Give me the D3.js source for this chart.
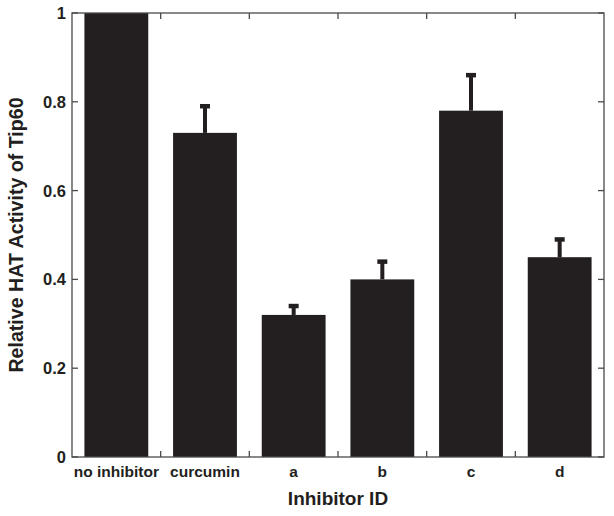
<!DOCTYPE html>
<html>
<head>
<meta charset="utf-8">
<script src="https://cdn.jsdelivr.net/npm/d3@7/dist/d3.min.js"></script>
<style>
html,body{margin:0;padding:0;background:#fff;}
svg{display:block;}
text{font-family:"Liberation Sans",Arial,sans-serif;font-weight:bold;fill:#231f20;}
</style>
</head>
<body>
<svg id="chart" width="614" height="516"></svg>
<script>
const categories = ["no inhibitor", "curcumin", "a", "b", "c", "d"];
const values = [1.0, 0.73, 0.32, 0.40, 0.78, 0.45];
const errors = [0, 0.06, 0.02, 0.04, 0.08, 0.04];
const yTicks = [0, 0.2, 0.4, 0.6, 0.8, 1];
const yTickLabels = ["0", "0.2", "0.4", "0.6", "0.8", "1"];
const xTitle = "Inhibitor ID";
const yTitle = "Relative HAT Activity of Tip60";

(function () {
const svg = d3.select("#chart");
const pL = 72, pR = 604, pT = 13, pB = 457;
const barColor = "#231f20", axisColor = "#4a4a4a";

const x = d3.scaleBand().domain(categories).range([pL, pR]).paddingInner(0.28).paddingOuter(0.14);
const xb = d3.scaleLinear().domain([0, categories.length]).range([pL, pR]);
const y = d3.scaleLinear().domain([0, 1]).range([pB, pT]);

// bars
svg.append("g").selectAll("rect").data(values).join("rect")
  .attr("x", (d, i) => x(categories[i]))
  .attr("width", x.bandwidth())
  .attr("y", d => y(d))
  .attr("height", d => y(0) - y(d))
  .attr("fill", barColor);

// error bars
const eg = svg.append("g");
values.forEach((v, i) => {
  if (!errors[i]) return;
  const cx = x(categories[i]) + x.bandwidth() / 2;
  eg.append("rect").attr("x", cx - 2).attr("width", 4)
    .attr("y", y(v + errors[i])).attr("height", y(v) - y(v + errors[i]))
    .attr("fill", barColor);
  eg.append("rect").attr("x", cx - 5).attr("width", 10)
    .attr("y", y(v + errors[i]) - 2.25).attr("height", 4.5)
    .attr("fill", barColor);
});

// frame
svg.append("rect").attr("x", pL).attr("y", pT).attr("width", pR - pL).attr("height", pB - pT)
  .attr("fill", "none").attr("stroke", axisColor).attr("stroke-width", 1.3);

// y ticks (inward on left and right)
const tg = svg.append("g").attr("stroke", axisColor).attr("stroke-width", 1.3);
yTicks.forEach(t => {
  tg.append("line").attr("x1", pL).attr("x2", pL + 6).attr("y1", y(t)).attr("y2", y(t));
  tg.append("line").attr("x1", pR).attr("x2", pR - 6).attr("y1", y(t)).attr("y2", y(t));
});
// x boundary ticks (inward on top and bottom)
d3.range(1, categories.length).forEach(k => {
  tg.append("line").attr("x1", xb(k)).attr("x2", xb(k)).attr("y1", pB).attr("y2", pB - 6);
  tg.append("line").attr("x1", xb(k)).attr("x2", xb(k)).attr("y1", pT).attr("y2", pT + 6);
});

// y tick labels
svg.append("g").selectAll("text").data(yTicks).join("text")
  .attr("x", 66).attr("y", d => y(d)).attr("dy", "0.36em")
  .attr("text-anchor", "end").attr("font-size", 16.5)
  .text((d, i) => yTickLabels[i]);

// category labels
svg.append("g").selectAll("text").data(categories).join("text")
  .attr("x", d => x(d) + x.bandwidth() / 2).attr("y", 477)
  .attr("text-anchor", "middle").attr("font-size", 15.5)
  .text(d => d);

// axis titles
svg.append("text").attr("x", (pL + pR) / 2).attr("y", 505)
  .attr("text-anchor", "middle").attr("font-size", 19).text(xTitle);
svg.append("text").attr("transform", `translate(23,${(pT + pB) / 2}) rotate(-90)`)
  .attr("text-anchor", "middle").attr("font-size", 19.6).text(yTitle);
})();
</script>
</body>
</html>
